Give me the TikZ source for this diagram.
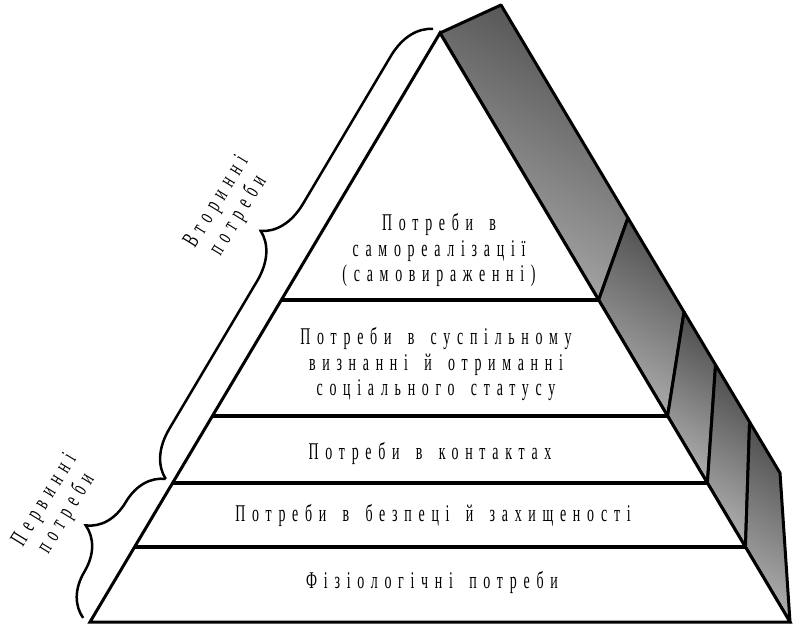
\documentclass[tikz,border=0pt]{standalone}
\usepackage{fontspec}
\usepackage{tikz}
\usetikzlibrary{calc,decorations.pathreplacing}
\newfontfamily\pyrfont[FakeStretch=0.58,LetterSpace=28,WordSpace=1.6]{Liberation Serif}
\tikzset{
  edge/.style={line width=3pt,line join=miter},
  layerline/.style={line width=3.5pt},
  seg/.style={draw,line width=3pt,line join=round,top color=black!68,bottom color=black!32,shading angle=-30},
  label/.style={font=\pyrfont\fontsize{24}{25.5}\selectfont,align=center,inner sep=0pt},
  sidelabel/.style={label,rotate=58.5},
  bracket/.style={line width=2.5pt,decorate,decoration={brace,amplitude=45pt,raise=8pt}}
}
\begin{document}
\begin{tikzpicture}[x=1pt,y=1pt]
\useasboundingbox (0,0) rectangle (797,627);
  \coordinate (BL) at (90,5);
  \coordinate (BR) at (790,5);
  \coordinate (A) at (440,594);
  \coordinate (T) at (501,622);
  \coordinate (C) at (780,154);
  \coordinate (L1) at ($(BL)!0.5467!(A)$);
  \coordinate (R1) at ($(BR)!0.5467!(A)$);
  \coordinate (L2) at ($(BL)!0.3497!(A)$);
  \coordinate (R2) at ($(BR)!0.3497!(A)$);
  \coordinate (L3) at ($(BL)!0.2360!(A)$);
  \coordinate (R3) at ($(BR)!0.2360!(A)$);
  \coordinate (L4) at ($(BL)!0.1273!(A)$);
  \coordinate (R4) at ($(BR)!0.1273!(A)$);
  \coordinate (O1) at ($(T)!0.455!(C)$);
  \coordinate (O2) at ($(T)!0.656!(C)$);
  \coordinate (O3) at ($(T)!0.769!(C)$);
  \coordinate (O4) at ($(T)!0.891!(C)$);
  \draw[seg] (A) -- (T) -- (O1) -- (R1) -- cycle;
  \draw[seg] (R1) -- (O1) -- (O2) -- (R2) -- cycle;
  \draw[seg] (R2) -- (O2) -- (O3) -- (R3) -- cycle;
  \draw[seg] (R3) -- (O3) -- (O4) -- (R4) -- cycle;
  \draw[seg] (R4) -- (O4) -- (C) -- (BR) -- cycle;
  \draw[edge,fill=white] (BL) -- (A) -- (BR) -- cycle;
  \draw[layerline] (L1) -- (R1);
  \draw[layerline] (L2) -- (R2);
  \draw[layerline] (L3) -- (R3);
  \draw[layerline] (L4) -- (R4);
  \node[label] (self) at (439,377) {Потреби в\\самореалізації\\(самовираженні)};
  \node[label] (esteem) at (436,263) {Потреби в суспільному\\визнанні й отриманні\\соціального статусу};
  \node[label] (social) at (430,174) {Потреби в контактах};
  \node[label] (safety) at (433,112) {Потреби в безпеці й захищеності};
  \node[label] (body) at (432,45) {Фізіологічні потреби};
  \draw[bracket] (L3) -- (A);
  \draw[bracket] (BL) -- (L3);
  \node[sidelabel] (second) at (228,418) {Вторинні\\потреби};
  \node[sidelabel] (first) at (56,120) {Первинні\\потреби};
\end{tikzpicture}
\end{document}
